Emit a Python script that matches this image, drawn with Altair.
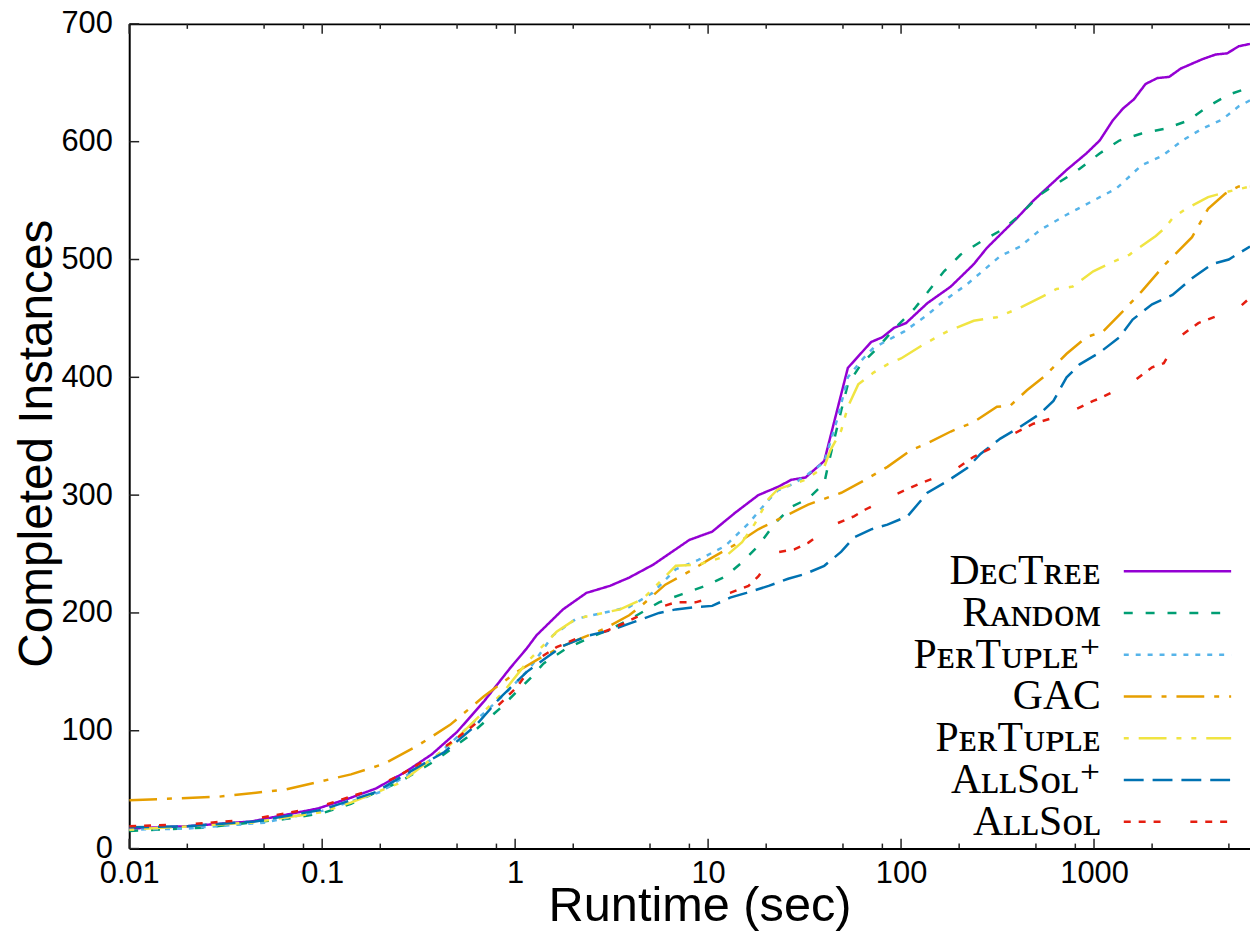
import altair as alt
import pandas as pd

# ---- data ----
names = ["DᴇᴄTʀᴇᴇ", "Rᴀɴᴅᴏᴍ", "PᴇʀTᴜᴘʟᴇ⁺", "GAC", "PᴇʀTᴜᴘʟᴇ", "AʟʟSᴏʟ⁺", "AʟʟSᴏʟ"]
colors = ["#9400d3", "#009e73", "#56b4e9", "#e69f00", "#f0e442", "#0072b2", "#e51e10"]
dashes = [[1, 0], [9, 13], [5, 7], [28, 10, 5, 10], [5, 10, 28, 10, 5, 10], [20, 9], [7, 8, 7, 8, 7, 30]]

dectree_t = [0.01, 0.02, 0.043, 0.095, 0.14, 0.19, 0.27, 0.37, 0.5, 0.69, 0.94, 1.15, 1.29, 1.77, 2.34, 3.1, 3.9, 5.2, 8, 10.5,
             13.8, 18.2, 23, 27, 32, 40, 53, 70, 80, 92, 106, 137, 181, 238, 279, 398, 485, 721, 912, 1070, 1250, 1410,
             1610, 1850, 2130, 2450, 2810, 3640, 4270, 4900, 5620, 6430]
dectree_n = [17, 19, 23, 34, 43, 51, 65, 80, 99, 125, 153, 170, 181, 203, 217, 223, 230, 241, 262, 269,
             285, 300, 307, 313, 315, 329, 408, 430, 434, 442, 446, 463, 477, 496, 510, 535, 550, 576, 590, 601, 618, 628,
             636, 649, 654, 655, 662, 670, 674, 675, 681, 683]

random_t = [0.01, 0.024, 0.064, 0.1, 0.141, 0.255, 0.38, 0.56, 0.835, 1.24, 1.4, 1.85, 2.43, 3.1, 4.07, 5.57, 7.35, 9.7,
            12.3, 15, 18.2, 22.2, 27, 33, 40, 41.7, 45.3, 49, 53, 62, 75.6, 92, 117, 137, 167, 203, 258, 340, 414, 525,
            665, 775, 843, 1069, 1353, 1766, 2340, 3090, 3900, 5000, 6430]
random_n = [15, 17.7, 25, 30, 38, 57, 74, 94, 119, 147, 157, 170, 179, 186, 196, 209, 216, 223,
            231, 243, 257, 276, 290, 297, 310, 324, 349, 372, 394, 411, 425, 441, 458, 472, 490, 504, 515, 526, 538, 555,
            566, 573, 577, 590, 601, 607, 611, 618, 630, 640, 646]

pertupleplus_t = [0.01, 0.02, 0.05, 0.1, 0.2, 0.38, 0.87, 1.19, 1.57, 2.07, 2.85, 3.9, 5.15, 6.8, 8.9, 12.3, 16.2, 20.6,
                  23, 28, 33, 40, 47, 53, 62, 72, 104, 137, 167, 220, 327, 414, 525, 721, 991, 1300, 1766, 2260, 2870,
                  3635, 4630, 5620, 6430]
pertupleplus_n = [16, 17, 22, 32, 48, 77, 130, 153, 181, 195, 200, 205, 217, 237, 245, 257, 276, 296,
                  304, 310, 318, 328, 366, 400, 414, 425, 439, 453, 465, 479, 503, 511, 525, 538, 550, 560, 580, 588, 601,
                  611, 619, 630, 635]

gac_t = [0.01, 0.029, 0.064, 0.141, 0.21, 0.31, 0.46, 0.687, 1.02, 1.29, 1.77, 2.24, 2.85, 3.9, 4.57, 6.0, 7.95, 10.5,
         13.8, 18.2, 24.2, 33, 49, 62, 85, 112, 137, 181, 238, 314, 368, 449, 546, 721, 912, 1114, 1410, 1766, 2340,
         3220, 3900, 4790, 5620, 6430]
gac_n = [41, 44, 50, 63, 72, 87, 105, 129, 150, 160, 172, 179, 186, 198, 207, 224, 235, 247,
         258, 271, 281, 292, 302, 311, 324, 338, 344, 354, 362, 375, 376, 389, 400, 420, 434, 439, 456, 473, 496,
         519, 543, 556, 562, 562]

pertuple_t = [0.01, 0.043, 0.1, 0.141, 0.255, 0.46, 0.687, 0.87, 1.15, 1.64, 2.07, 2.5, 3.5, 4.6, 5.15, 6.8, 8.9, 12.3,
              15, 17.5, 20.6, 23, 27, 32, 40, 43, 49, 53, 60, 72, 85, 100, 131, 174, 238, 314, 414, 546, 640, 775, 991,
              1253, 1524, 2090, 2340, 2550, 2990, 3900, 4790, 6430]
pertuple_n = [16, 22, 31, 39, 56, 88, 116, 133, 158, 184, 195, 198, 203, 212, 220, 240, 241, 248,
              260, 276, 297, 305, 309, 313, 324, 338, 355, 375, 394, 404, 411, 416, 428, 439, 448, 451, 459, 469, 475,
              477, 490, 498, 504, 520, 527, 535, 543, 553, 557, 562]

allsolplus_t = [0.01, 0.02, 0.045, 0.1, 0.19, 0.29, 0.43, 0.63, 0.835, 1.15, 1.51, 1.77, 2.07, 2.43, 3.08, 4.07, 5.57,
                6.8, 8.6, 10.5, 13, 15.8, 20.6, 26, 31.7, 40, 49, 57, 70, 85, 108, 137, 174, 220, 258, 327, 414, 525,
                616, 721, 843, 1069, 1353, 1585, 2000, 2550, 3220, 4080, 4990, 6430]
allsolplus_n = [18, 19, 23, 33, 48, 66, 82, 105, 128, 150, 164, 172, 176.5, 181, 185, 192, 200,
                203, 205, 206, 213, 217, 223, 229, 233, 240, 252, 264, 271, 275, 282, 302, 312, 323, 335, 348, 358, 369,
                380, 400, 411, 421, 434, 449, 462, 470, 484, 496, 500, 511]

allsol_t = [0.01, 0.02, 0.043, 0.095, 0.17, 0.255, 0.38, 0.56, 0.8, 1.02, 1.29, 1.64, 2.07, 2.85, 3.6, 5.15, 6.8, 8.6,
            13, 16.2, 18.2, 22.2, 28, 33, 45, 57, 65, 92, 126, 188, 238, 302, 382, 485, 721, 991, 1069, 1585, 2000,
            2300, 2750, 3470, 5620, 6430]
allsol_n = [19, 20.5, 24.7, 35, 48.6, 62.7, 79.5, 100, 120, 137, 160, 171, 178, 183.6, 190.6, 203, 209, 209,
            217, 223, 231, 251, 254, 259.5, 275, 282, 287.6, 300, 310, 321, 332.5, 341, 352, 360.6, 369, 380, 382, 396,
            408.5, 412, 434, 446, 459, 467.5]

series = [
    (dectree_t, dectree_n), (random_t, random_n), (pertupleplus_t, pertupleplus_n), (gac_t, gac_n),
    (pertuple_t, pertuple_n), (allsolplus_t, allsolplus_n), (allsol_t, allsol_n),
]

major_ticks_x = [0.01, 0.1, 1, 10, 100, 1000]
minor_ticks_x = [0.02, 0.05, 0.08, 0.2, 0.5, 0.8, 2, 5, 8, 20, 50, 80, 200, 500, 800, 2000, 5000]
ticks_y = [0, 100, 200, 300, 400, 500, 600, 700]

# one table: curve points plus tick positions (kind column tells them apart)
rows = []
for name, (ts, ns) in zip(names, series):
    for i, (t, n) in enumerate(zip(ts, ns)):
        rows.append({"kind": "curve", "solver": name, "t": t, "n": n, "i": i})
for v in major_ticks_x:
    rows.append({"kind": "xmajor", "t": v, "n": 0})
for v in minor_ticks_x:
    rows.append({"kind": "xminor", "t": v, "n": 0})
for v in ticks_y:
    rows.append({"kind": "ytick", "t": 1, "n": v})
df = pd.DataFrame(rows)

H = 830  # plot height in px
xscale = alt.Scale(type="log", domain=[0.01, 6432], nice=False)
yscale = alt.Scale(domain=[0, 700], nice=False)

SANS = "Liberation Sans"
SERIF = "Liberation Serif, DejaVu Serif, serif"
TICK = "#222222"

legend = alt.Legend(
    orient="none", legendX=995, legendY=530, title=None, padding=0,
    labelFont=SERIF, labelFontSize=42, labelColor="black", labelAlign="right", labelBaseline="middle",
    labelOffset=alt.ExprRef("-98"), symbolOffset=39, symbolType="M-5,0H5", symbolSize=467, symbolStrokeWidth=2.5,
    symbolFillColor="transparent", rowPadding=-0.8, labelLimit=400,
)

base = alt.Chart(df)

lines = base.transform_filter("datum.kind == 'curve'").mark_line(strokeWidth=2.5, clip=True).encode(
    x=alt.X("t:Q", scale=xscale, axis=alt.Axis(
        orient="bottom", values=major_ticks_x, labelExpr="'' + datum.value", grid=False,
        domainColor="black", domainWidth=2, tickOpacity=0, tickSize=alt.ExprRef("-10"),
        labelFont=SANS, labelFontSize=31, labelColor="black", labelPadding=20, labelFlush=False, labelOverlap=False,
        title="Runtime (sec)", titleFont=SANS, titleFontSize=49, titleFontWeight="normal", titleColor="black",
        titleX=574, titleY=72, titleBaseline="alphabetic", titleAlign="center")),
    y=alt.Y("n:Q", scale=yscale, axis=alt.Axis(
        orient="left", values=ticks_y, grid=False,
        domainColor="black", domainWidth=2, tickOpacity=0, tickSize=alt.ExprRef("-10"),
        labelFont=SANS, labelFontSize=31, labelColor="black", labelPadding=27, labelFlush=False, labelOverlap=False,
        title="Completed Instances", titleFont=SANS, titleFontSize=48,
        titleFontWeight="normal", titleColor="black", titleAngle=270,
        titleX=-78, titleY=422, titleBaseline="alphabetic", titleAlign="center")),
    color=alt.Color("solver:N", scale=alt.Scale(domain=names, range=colors), legend=legend),
    strokeDash=alt.StrokeDash("solver:N", scale=alt.Scale(domain=names, range=dashes), legend=legend),
    order="i:Q",
)

# top frame line (axis domain only)
top_frame = base.transform_filter("datum.kind == 'curve'").mark_line(opacity=0).encode(
    x=alt.X("t:Q", scale=xscale, axis=alt.Axis(
        orient="top", values=major_ticks_x, labels=False, ticks=False, grid=False, title=None,
        domain=True, domainColor="black", domainWidth=2)),
    y=alt.Y("n:Q", scale=yscale, axis=None),
    detail="solver:N",
)


def x_ticks(kind, length, top):
    y0, y1 = (0, length) if top else (H - length, H)
    return base.transform_filter(f"datum.kind == '{kind}'").mark_rule(color=TICK, strokeWidth=1.5).encode(
        x=alt.X("t:Q", scale=xscale, axis=None),
        y=alt.value(y0), y2=alt.value(y1),
    )


y_ticks = base.transform_filter("datum.kind == 'ytick'").mark_rule(color=TICK, strokeWidth=1.5).encode(
    y=alt.Y("n:Q", scale=yscale, axis=None),
    x=alt.value(0), x2=alt.value(10),
)

chart = alt.layer(
    lines,
    top_frame,
    x_ticks("xmajor", 10, False),
    x_ticks("xminor", 5, False),
    x_ticks("xmajor", 10, True),
    x_ticks("xminor", 5, True),
    y_ticks,
).resolve_axis(x="independent", y="independent").properties(
    width=1128, height=H,
    autosize=alt.AutoSizeParams(type="none"),
    padding={"left": 122, "top": 13, "right": 0, "bottom": 83},
).configure(background="white").configure_view(stroke=None)

chart.save("out.html", embed_options={"renderer": "svg", "actions": False})
